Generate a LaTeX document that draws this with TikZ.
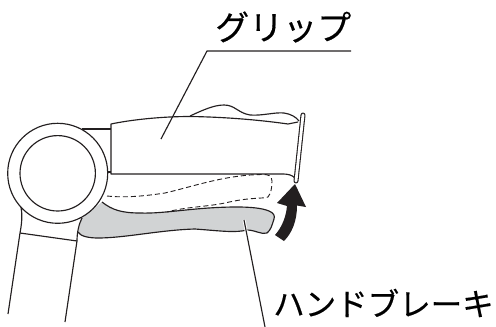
\documentclass[tikz,border=0pt]{standalone}
\usepackage{fontspec}
\usetikzlibrary{calc}
\newfontfamily\jp[FakeBold=0.4]{Noto Sans CJK JP}
\definecolor{lev}{HTML}{D1D3D4}
\definecolor{ink}{HTML}{231F20}
\tikzset{ln/.style={draw=ink,line width=1.15pt,line join=round},
 dsh/.style={ln,line width=0.9pt,dash pattern=on 5pt off 3pt},
 lab/.style={inner sep=0,anchor=west,font=\jp}}
\begin{document}
\begin{tikzpicture}[x=1pt,y=-1pt]
\useasboundingbox (0,0) rectangle (496,327);
% grey lever
\fill[lev] (102,202) .. controls (112,210) and (122,213) .. (140,213) .. controls (165,214) and (195,207) .. (237,207) .. controls (250,207) and (262,208) .. (269,211) .. controls (274,213) and (275,216) .. (274,219) .. controls (272,225) and (271,230) .. (267,233) .. controls (262,235) and (255,230) .. (247,230) .. controls (235,233) and (222,231) .. (195,229) .. controls (160,230) and (125,238) .. (98,238) .. controls (88,238) and (80,236) .. (78,232) -- (82,218) -- cycle;
\draw[ln] (102,202) .. controls (112,210) and (122,213) .. (140,213) .. controls (165,214) and (195,207) .. (237,207) .. controls (250,207) and (262,208) .. (269,211) .. controls (274,213) and (275,216) .. (274,219) .. controls (272,225) and (271,230) .. (267,233) .. controls (262,235) and (255,230) .. (247,230) .. controls (235,233) and (222,231) .. (195,229) .. controls (160,230) and (125,238) .. (98,238) .. controls (88,238) and (80,236) .. (78,232);
% tube
\draw[ln] (57.7,173.3) circle[radius=50];
\draw[ln] (57.7,173.3) circle[radius=37.7];
% legs
\draw[ln] (21,207) .. controls (22,213) and (22.5,220) .. (20,233) -- (8,314);
\draw[ln] (20,233) -- (77,241);
\draw[ln] (82,218) .. controls (79,224) and (77,232) .. (77,241) -- (65,322);
% grip
\draw[ln] (82,129) -- (111,129);
\draw[ln] (108,172) -- (111,172);
\draw[ln] (298,122) -- (288,124) .. controls (260,120) and (225,117) .. (190,116.5) .. controls (160,116.5) and (130,120) .. (111,124) -- (111,174) -- (283,174) .. controls (288,174) and (292,175) .. (295,178);
\draw[ln] (190,116) .. controls (203,110) and (214,105) .. (224,105) .. controls (235,105) and (238,113) .. (250,115) .. controls (262,116) and (275,112) .. (284,113) .. controls (291,114) and (296,117) .. (299,121);
% lever end
\draw[draw=ink,line width=5pt,line cap=round] (303,115) -- (296,181);
\draw[draw=white,line width=2.8pt,line cap=round] (303,115) -- (296,181);
% dashed lever
\draw[dsh] (107,196) .. controls (125,198) and (145,196) .. (165,193) .. controls (195,186) and (225,175) .. (262,174.5) .. controls (268,174) and (272,176) .. (272,181) .. controls (272,188) and (271,193) .. (268,197) .. controls (262,199) and (250,197) .. (225,203) .. controls (205,207) and (185,207) .. (167,212);
% arrow
\fill[ink] (295,184) -- (306,207) -- (297,205.5) .. controls (297,221) and (292,233) .. (284,241) -- (275,235) .. controls (282,227) and (286,217) .. (287,206) -- (277,203) -- cycle;
% leaders
\coordinate (g0) at (351,51);
\coordinate (g1) at (207,51);
\coordinate (g2) at (161,139);
\draw[ln] (g0) -- (g1) -- (g2);
\coordinate (h0) at (244,220);
\coordinate (h1) at (265,327);
\draw[draw=white,line width=3pt] (h0) -- ($(h0)!0.13!(h1)$);
\draw[ln] (h0) -- (h1);
\node[lab,font=\jp\fontsize{34}{34}\selectfont] (grip) at (215,27) {グリップ};
\node[lab,font=\jp\fontsize{31.5}{32}\selectfont] (brake) at (273,303) {ハンドブレーキ};
\end{tikzpicture}
\end{document}
